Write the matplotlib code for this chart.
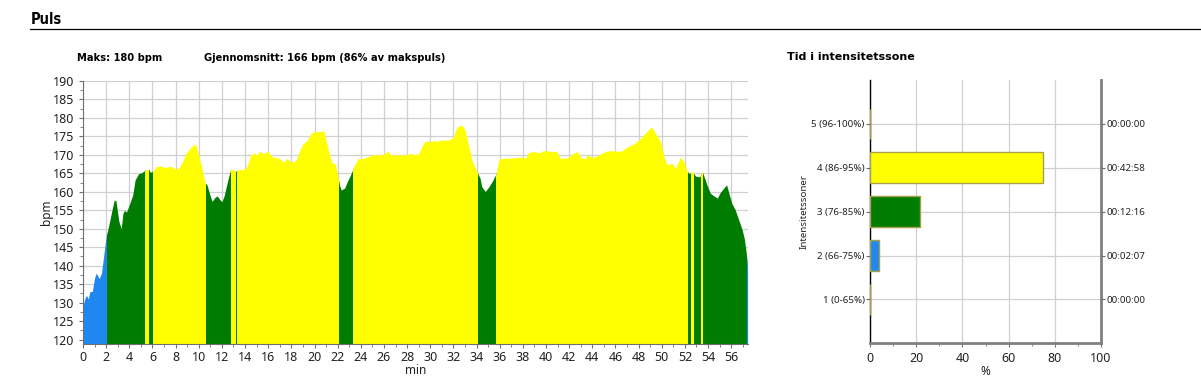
import matplotlib
matplotlib.use("Agg")
import matplotlib.pyplot as plt
from matplotlib.patches import Rectangle
from matplotlib.ticker import MultipleLocator

# heart rate trace (minutes, bpm)
TIME_MIN = [
    0.0, 0.15, 0.3, 0.45, 0.6, 0.8, 1.0, 1.15, 1.4, 1.6, 1.8, 2.0, 2.1, 2.3, 2.5,
    2.7, 2.85, 3.1, 3.3, 3.45, 3.6, 3.75, 4.0, 4.3, 4.5, 4.8, 5.1, 5.4, 5.7, 5.8,
    6.05, 6.3, 6.8, 7.2, 7.5, 8.0, 8.3, 8.6, 8.9, 9.3, 9.7, 10.0, 10.3, 10.55,
    10.7, 10.9, 11.15, 11.4, 11.6, 11.8, 12.0, 12.2, 12.5, 12.75, 13.0, 13.25,
    13.4, 13.9, 14.2, 14.5, 14.8, 15.0, 15.3, 15.6, 16.0, 16.3, 16.7, 17.0, 17.3,
    17.6, 18.0, 18.4, 18.7, 19.0, 19.4, 19.7, 20.1, 20.5, 20.8, 21.0, 21.3, 21.5,
    21.8, 22.0, 22.15, 22.3, 22.6, 22.8, 23.1, 23.3, 23.5, 23.8, 24.2, 24.6, 25.0,
    25.5, 26.0, 26.3, 26.6, 27.0, 27.5, 28.0, 28.3, 28.6, 29.0, 29.3, 29.6, 30.0,
    30.3, 30.6, 30.9, 31.5, 31.9, 32.0, 32.3, 32.7, 33.0, 33.3, 33.6, 33.9, 34.1,
    34.3, 34.45, 34.75, 35.05, 35.35, 35.7, 35.9, 36.2, 36.9, 37.8, 38.2, 38.5,
    38.9, 39.5, 39.8, 40.4, 40.9, 41.2, 41.8, 42.4, 42.7, 43.0, 43.4, 43.55, 44.0,
    44.4, 44.85, 45.3, 45.9, 46.4, 46.7, 47.0, 47.6, 48.0, 48.45, 48.9, 49.15,
    49.45, 49.9, 50.2, 50.45, 50.9, 51.2, 51.6, 51.9, 52.2, 52.4, 52.65, 52.9,
    53.1, 53.3, 53.5, 53.7, 53.9, 54.2, 54.5, 54.8, 55.05, 55.35, 55.6, 55.8,
    56.05, 56.35, 56.65, 56.95, 57.15, 57.3, 57.42,
]
BPM = [
    129, 131, 132, 131, 133, 133, 136.7, 138, 136.5, 138, 143, 147.9, 149.1, 152, 155,
    157.8, 157.5, 152, 150, 154.2, 155, 154.5, 156.5, 159.2, 163.2, 164.9, 165.2, 166, 166, 165.3,
    165.5, 166.8, 167, 166.5, 167, 166.2, 166.5, 168.2, 170.4, 172, 173, 170, 166, 162.3,
    162, 159.8, 157.4, 158.5, 158.9, 158, 157.3, 159, 163, 166, 166, 165.5,
    166, 166, 167, 170, 170.5, 170, 171, 170.3, 171, 169.5, 169.3, 169, 168,
    169, 168, 168.5, 171, 173, 174, 175.9, 176.3, 176.3, 176.5, 174, 170, 168,
    167.5, 164.5, 161.9, 160.5, 161, 162.5, 164.5, 166, 167.5, 169, 169, 169.5, 170,
    170, 170.2, 171, 170, 170, 170, 170, 170.5, 170, 170.3, 172.5, 173.8, 173.6,
    173.9, 173.6, 174, 174, 174.5, 175, 177.5, 178.1, 176.8, 172.7, 168.6, 166.4, 165,
    163.7, 161.4, 160.1, 161.3, 162.8, 164.9, 168.5, 169.1, 169.1, 169.4, 169.1, 170.6,
    170.9, 170.6, 171.2, 170.9, 171, 169.1, 169.1, 170.5, 170.9, 169.4, 168.8, 170, 169.3,
    169.7, 170.5, 171.1, 171.1, 170.9, 171.4, 172.1, 173, 174, 175.4, 177, 177.5,
    175.9, 173.6, 169.5, 167.3, 167.7, 166.4, 169.4, 168.2, 165.5, 164.9, 165.5, 164.3,
    164.1, 164.1, 165.5, 163.7, 161.9, 159.6, 158.9, 158.3, 159.8, 161, 161.9, 159.6,
    156.9, 155.1, 152.4, 149.7, 147, 143.4, 139,
]

# zone colouring of the trace: start time of each run and its zone
ZONE_START = [0.0, 2.07, 5.39, 5.73, 6.08, 10.66, 12.82, 13.2, 13.34, 22.13,
              23.29, 34.15, 35.68, 52.24, 52.56, 52.76, 53.42, 53.6, 57.37]
ZONE_RUN = [2, 3, 4, 3, 4, 3, 4, 3, 4, 3, 4, 3, 4, 3, 4, 3, 4, 3, 2]
END_MIN = 57.45

# time in zone
ZONE_LABELS = ["1 (0-65%)", "2 (66-75%)", "3 (76-85%)", "4 (86-95%)", "5 (96-100%)"]
ZONE_PCT = [0, 3.7, 21.4, 74.9, 0]
ZONE_TIME = ["00:00:00", "00:02:07", "00:12:16", "00:42:58", "00:00:00"]

COLORS = {1: "#a0a0a0", 2: "#1e88f0", 3: "#007d00", 4: "#ffff00", 5: "#e02020"}
GRID = "#d0d0d4"
TXT = "#222222"
YMIN = 118.8

fig = plt.figure(figsize=(12.01, 3.88), dpi=100)
plt.rcParams["font.family"] = ["Noto Sans", "DejaVu Sans"]

# header
fig.text(31 / 1201, 1 - 19 / 388, "Puls", fontsize=10.5, fontweight="bold",
         family="DejaVu Sans", fontstretch="condensed", va="center", ha="left")
fig.add_artist(plt.Line2D([30 / 1201, 1.0], [1 - 28.5 / 388] * 2, color="black", lw=0.9))
fig.text(77 / 1201, 1 - 58 / 388, "Maks: 180 bpm", fontsize=7.9, fontweight="bold",
         family="DejaVu Sans", fontstretch="condensed", va="center", ha="left")
fig.text(204 / 1201, 1 - 58 / 388, "Gjennomsnitt: 166 bpm (86% av makspuls)", fontsize=7.9,
         fontweight="bold", family="DejaVu Sans", fontstretch="condensed",
         va="center", ha="left")
fig.text(787 / 1201, 1 - 57.5 / 388, "Tid i intensitetssone", fontsize=8,
         fontweight="bold", family="DejaVu Sans", va="center", ha="left")

# A: heart rate trace
ax = fig.add_axes([83 / 1201, 44 / 388, 665 / 1201, 263 / 388])
bounds = ZONE_START + [END_MIN]
for i, zone in enumerate(ZONE_RUN):
    t0, t1 = bounds[i], bounds[i + 1]
    poly = ax.fill_between(TIME_MIN, YMIN, BPM, color=COLORS[zone], lw=0)
    clip = Rectangle((t0, YMIN), t1 - t0, 80, transform=ax.transData)
    poly.set_clip_path(clip)
ax.set_xlim(0, END_MIN)
ax.set_ylim(YMIN, 190)
ax.xaxis.set_major_locator(MultipleLocator(2))
ax.xaxis.set_minor_locator(MultipleLocator(1))
ax.yaxis.set_major_locator(MultipleLocator(5))
ax.yaxis.set_minor_locator(MultipleLocator(2.5))
ax.grid(True, which="major", color=GRID, lw=0.9)
ax.set_axisbelow(True)
for s in ("top", "right"):
    ax.spines[s].set_visible(False)
for s in ("left", "bottom"):
    ax.spines[s].set_color("#707070")
ax.tick_params(which="both", direction="out", colors="#707070", labelcolor=TXT,
               labelsize=9)
ax.tick_params(which="major", length=3)
ax.tick_params(which="minor", length=2)
ax.tick_params(axis="x", pad=2)
ax.set_xlabel("min", fontsize=8.5, color=TXT, labelpad=0)
ax.set_ylabel("bpm", fontsize=8.5, color=TXT, labelpad=0)

# B: time in intensity zone
bx = fig.add_axes([870.3 / 1201, 44.7 / 388, 230.4 / 1201, 263.3 / 388])
ypos = list(range(1, len(ZONE_LABELS) + 1))
bx.barh(ypos, ZONE_PCT, height=0.7, color=[COLORS[z] for z in ypos],
        edgecolor="#a8a048", lw=1, zorder=3)
bx.set_xlim(0, 100)
bx.set_ylim(0, 6)
bx.set_yticks(ypos)
bx.set_yticklabels(ZONE_LABELS)
bx.xaxis.set_major_locator(MultipleLocator(20))
bx.xaxis.set_minor_locator(MultipleLocator(10))
bx.grid(True, which="major", color=GRID, lw=0.9)
bx.set_axisbelow(True)
bx.spines["top"].set_visible(False)
bx.spines["left"].set_color("black")
bx.spines["left"].set_linewidth(1)
for s in ("right", "bottom"):
    bx.spines[s].set_color("#808080")
    bx.spines[s].set_linewidth(2)
bx.tick_params(axis="y", labelsize=7, colors="#707070", labelcolor=TXT, length=3, pad=1)
bx.tick_params(axis="x", which="both", labelsize=9, colors="#707070", labelcolor=TXT)
bx.tick_params(axis="x", which="major", length=3)
bx.tick_params(axis="x", which="minor", length=2)
bx.set_xlabel("%", fontsize=8.5, color=TXT, labelpad=0)
bx.set_ylabel("Intensitetssoner", fontsize=7, color=TXT, labelpad=2)

rx = bx.twinx()
rx.set_ylim(bx.get_ylim())
rx.set_yticks(ypos)
rx.set_yticklabels(ZONE_TIME)
rx.tick_params(axis="y", labelsize=7, colors="#707070", labelcolor=TXT, length=3, pad=1)
for s in ("top", "left", "right", "bottom"):
    rx.spines[s].set_visible(False)

fig.savefig("out.png", dpi=100)
